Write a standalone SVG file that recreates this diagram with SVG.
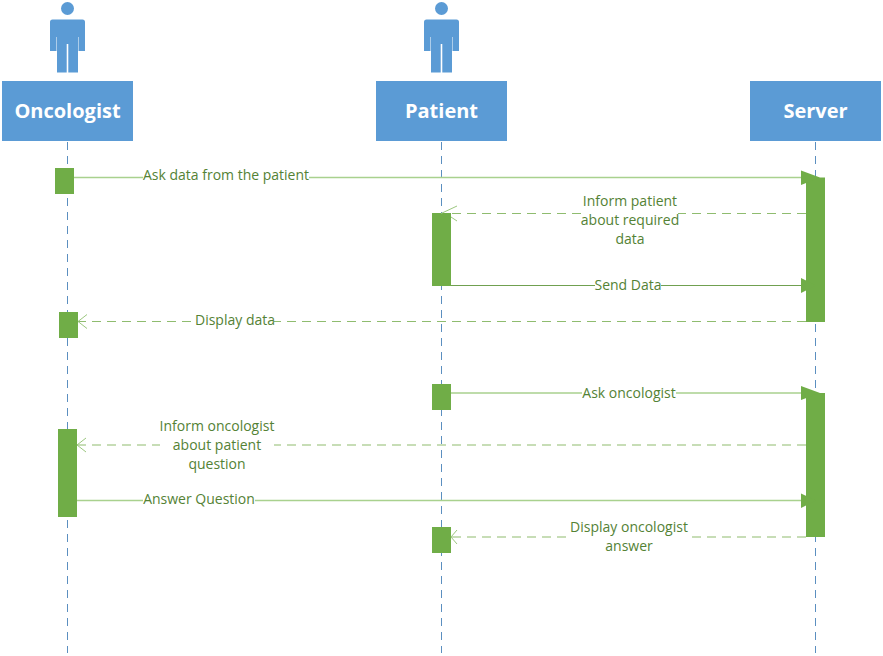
<svg xmlns="http://www.w3.org/2000/svg" width="883" height="656" viewBox="0 0 883 656">
<style>
.bg{fill:#fff}
.box{fill:#5b9bd5}
.title{font:bold 20px "Open Sans","Noto Sans",sans-serif;fill:#fff;text-anchor:middle}
.life{stroke:#5b8fc0;stroke-width:1;stroke-dasharray:8 6;fill:none}
.act{fill:#70ad47}
.msg{stroke:#a9d18e;stroke-width:1.5;fill:none}
.msgd{stroke:#70a050;stroke-width:1;fill:none}
.dash{stroke-dasharray:9 6;stroke:#8fbc6f;stroke-width:1.2;fill:none}
.open{stroke:#9cc77f;stroke-width:1;fill:none}
.head{fill:#70ad47}
.lab{font:14px "Open Sans","Noto Sans",sans-serif;fill:#548235;text-anchor:middle}
.lbg{fill:#fff}
</style>
<defs>
<g id="person" class="box">
<circle cx="0" cy="8.5" r="6.5"/>
<path d="M-15 19.5H15Q17.5 19.5 17.5 22V51H11V37H10.500V72.500H0.800V44H-0.800V72.500H-10.500V37H-11V51H-17.500V22Q-17.500 19.500-15 19.500Z"/>
</g>
</defs>
<rect class="bg" width="883" height="656"/>
<g id="lifelines">
<path class="life" d="M67.5 142V653"/>
<path class="life" d="M441.5 142V653"/>
<path class="life" d="M815.5 142V653"/>
</g>
<g id="oncologist"><use href="#person" x="67.5" y="0"/><rect class="box" x="2" y="81" width="131" height="60"/><text class="title" x="67.5" y="118">Oncologist</text></g>
<g id="patient"><use href="#person" x="441.5" y="0"/><rect class="box" x="376" y="81" width="131" height="60"/><text class="title" x="441.5" y="118">Patient</text></g>
<g id="server"><rect class="box" x="750" y="81" width="131" height="60"/><text class="title" x="815.5" y="118">Server</text></g>
<g id="activations">
<rect class="act" x="55" y="168" width="19" height="26"/>
<rect class="act" x="806" y="177.500" width="19" height="144.500"/>
<rect class="act" x="432" y="213" width="19" height="73"/>
<rect class="act" x="59" y="312" width="19" height="26"/>
<rect class="act" x="432" y="384" width="19" height="26"/>
<rect class="act" x="806" y="393" width="19" height="144"/>
<rect class="act" x="58" y="429" width="19" height="88"/>
<rect class="act" x="432" y="527" width="19" height="26"/>
</g>
<g id="connectors">
<path class="msg" d="M74 177.500H802"/><path class="head" d="M801 170.500L820 177.500L801 185Z"/>
<path class="dash" d="M806 213.500H451"/><path class="open" d="M457 206L441 213.500M457 221L451 217"/>
<path class="msgd" d="M451 285.500H802"/><path class="head" d="M801 278L816 285.500L801 293Z"/>
<path class="dash" d="M806 321.500H78"/><path class="open" d="M87 314.500L78 321.500L87 328.500"/>
<path class="msg" d="M451 393H802"/><path class="head" d="M801 386L820 393L801 400Z"/>
<path class="dash" d="M806 445H77"/><path class="open" d="M86 438L77 445L86 452"/>
<path class="msg" d="M77 500.500H802"/><path class="head" d="M801 493.500L816 500.500L801 508Z"/>
<path class="dash" d="M806 537H451"/><path class="open" d="M457 530L451 537L457 544"/>
</g>
<g id="labels">
<rect class="lbg" x="143" y="168" width="166" height="16"/><text class="lab" x="226" y="180">Ask data from the patient</text>
<rect class="lbg" x="581" y="193" width="97" height="54"/><text class="lab" x="630" y="206">Inform patient</text><text class="lab" x="630" y="225">about required</text><text class="lab" x="630" y="244">data</text>
<rect class="lbg" x="595" y="277" width="66" height="16"/><text class="lab" x="628" y="290">Send Data</text>
<rect class="lbg" x="196" y="313" width="78" height="16"/><text class="lab" x="235" y="325">Display data</text>
<rect class="lbg" x="582" y="385" width="94" height="16"/><text class="lab" x="629" y="398">Ask oncologist</text>
<rect class="lbg" x="160" y="418" width="114" height="54"/><text class="lab" x="217" y="431">Inform oncologist</text><text class="lab" x="217" y="450">about patient</text><text class="lab" x="217" y="469">question</text>
<rect class="lbg" x="143" y="492" width="112" height="16"/><text class="lab" x="199" y="504">Answer Question</text>
<rect class="lbg" x="570" y="519" width="118" height="35"/><text class="lab" x="629" y="532">Display oncologist</text><text class="lab" x="629" y="551">answer</text>
</g>
</svg>
